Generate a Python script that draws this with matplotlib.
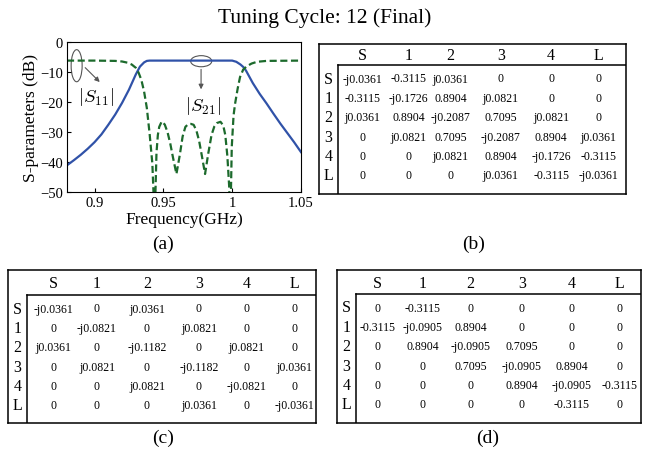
import matplotlib
matplotlib.use("Agg")
import matplotlib.pyplot as plt
from matplotlib.patches import Ellipse

plt.rcParams['font.family'] = ['Liberation Serif', 'DejaVu Serif']
plt.rcParams['mathtext.fontset'] = 'cm'

# S-parameter curves (GHz, dB)
s21_freq = [0.880, 0.885, 0.890, 0.895, 0.900, 0.905, 0.910, 0.915, 0.920, 0.925,
            0.930, 0.933, 0.936, 0.938, 0.940, 0.960, 0.980, 1.000, 1.003, 1.006,
            1.008, 1.010, 1.015, 1.020, 1.025, 1.030, 1.035, 1.040, 1.045, 1.050]
s21_db = [-41.1, -39.4, -37.6, -35.6, -33.4, -30.8, -27.6, -24.2, -20.3, -15.9,
          -10.8, -8.2, -6.8, -6.3, -6.2, -6.2, -6.2, -6.2, -6.6, -7.5,
          -8.3, -9.5, -13.7, -17.3, -20.5, -23.9, -27.2, -30.3, -33.4, -36.7]

s11_freq = [0.880, 0.900, 0.915, 0.920, 0.924, 0.927, 0.930, 0.932, 0.934, 0.936,
            0.938, 0.940, 0.942, 0.9437, 0.945, 0.946, 0.947, 0.9488, 0.951, 0.953,
            0.955, 0.957, 0.9595, 0.962, 0.964, 0.966, 0.968, 0.970, 0.972, 0.974,
            0.976, 0.978, 0.9803, 0.9825, 0.985, 0.987, 0.989, 0.9915, 0.9935, 0.995,
            0.9965, 0.9978, 0.9987, 0.9997, 1.001, 1.0021, 1.004, 1.0057, 1.008, 1.0106,
            1.014, 1.018, 1.025, 1.050]
s11_db = [-6.2, -6.2, -6.3, -6.5, -6.9, -7.5, -8.6, -10.2, -12.6, -16.5,
          -22.0, -30.5, -40.5, -60.0, -37.0, -31.0, -28.3, -26.5, -27.5, -30.0,
          -33.8, -38.5, -44.0, -37.5, -31.5, -28.3, -27.4, -27.3, -27.6, -29.5,
          -33.0, -38.0, -44.0, -37.5, -31.0, -28.2, -27.0, -26.6, -27.8, -31.0,
          -38.0, -48.0, -60.0, -35.0, -24.5, -20.6, -15.5, -11.7, -9.2, -8.1,
          -7.2, -6.6, -6.3, -6.2]

port_labels = ['S', '1', '2', '3', '4', 'L']

table_b = [
    ['-j0.0361', '-0.3115', 'j0.0361', '0', '0', '0'],
    ['-0.3115', '-j0.1726', '0.8904', 'j0.0821', '0', '0'],
    ['j0.0361', '0.8904', '-j0.2087', '0.7095', 'j0.0821', '0'],
    ['0', 'j0.0821', '0.7095', '-j0.2087', '0.8904', 'j0.0361'],
    ['0', '0', 'j0.0821', '0.8904', '-j0.1726', '-0.3115'],
    ['0', '0', '0', 'j0.0361', '-0.3115', '-j0.0361'],
]
table_c = [
    ['-j0.0361', '0', 'j0.0361', '0', '0', '0'],
    ['0', '-j0.0821', '0', 'j0.0821', '0', '0'],
    ['j0.0361', '0', '-j0.1182', '0', 'j0.0821', '0'],
    ['0', 'j0.0821', '0', '-j0.1182', '0', 'j0.0361'],
    ['0', '0', 'j0.0821', '0', '-j0.0821', '0'],
    ['0', '0', '0', 'j0.0361', '0', '-j0.0361'],
]
table_d = [
    ['0', '-0.3115', '0', '0', '0', '0'],
    ['-0.3115', '-j0.0905', '0.8904', '0', '0', '0'],
    ['0', '0.8904', '-j0.0905', '0.7095', '0', '0'],
    ['0', '0', '0.7095', '-j0.0905', '0.8904', '0'],
    ['0', '0', '0', '0.8904', '-j0.0905', '-0.3115'],
    ['0', '0', '0', '0', '-0.3115', '0'],
]

W, H = 651, 452
fig = plt.figure(figsize=(W / 100, H / 100), dpi=100)


def rect(left, top, right, bottom):
    return [left / W, 1 - bottom / H, (right - left) / W, (bottom - top) / H]


fig.text(325 / W, 1 - 18 / H, 'Tuning Cycle: 12 (Final)', ha='center', va='center', fontsize=15.5)

# (a) response plot
ax = fig.add_axes(rect(67, 43, 301, 193))
ax.plot(s21_freq, s21_db, color='#3052a8', lw=1.6)
ax.plot(s11_freq, s11_db, color='#1c6a2c', lw=1.6, linestyle=(0, (3.2, 1.6)))
ax.set_xlim(0.88, 1.05)
ax.set_ylim(-50, 0)
ax.set_xticks([0.9, 0.95, 1.0, 1.05])
ax.set_xticklabels(['0.9', '0.95', '1', '1.05'])
ax.set_yticks([0, -10, -20, -30, -40, -50])
ax.tick_params(direction='in', length=3, labelsize=10.5, pad=3)
ax.set_xlabel('Frequency(GHz)', fontsize=12.5, labelpad=1)
ax.set_ylabel('S-parameters (dB)', fontsize=12.5, labelpad=1)

ax.add_patch(Ellipse((0.887, -7.9), 0.008, 10.7, fill=False, ec='#555555', lw=0.8))
ax.annotate('', xy=(0.9052, -14.0), xytext=(0.8918, -7.9),
            arrowprops=dict(arrowstyle='-|>', color='#555555', lw=0.8, mutation_scale=7))
ax.text(0.9009, -17.9, r'$|S_{11}|$', ha='center', va='center', fontsize=13.5)

ax.add_patch(Ellipse((0.9775, -6.4), 0.0153, 3.7, fill=False, ec='#555555', lw=0.8))
ax.annotate('', xy=(0.9774, -16.7), xytext=(0.9774, -8.2),
            arrowprops=dict(arrowstyle='-|>', color='#555555', lw=0.8, mutation_scale=7))
ax.text(0.979, -21.0, r'$|S_{21}|$', ha='center', va='center', fontsize=13.5)

fig.text(163 / W, 1 - 244 / H, '(a)', ha='center', va='center', fontsize=14)


def draw_table(box, vline, hline, col_frac, cells, label_pos):
    left, top, right, bottom = box
    tax = fig.add_axes(rect(left, top, right, bottom))
    w, h = right - left, bottom - top
    tax.set_xlim(0, w)
    tax.set_ylim(h, 0)
    tax.set_xticks([])
    tax.set_yticks([])
    for s in tax.spines.values():
        s.set_linewidth(1.1)
    vx = vline - left
    hy = hline - top
    tax.plot([vx, w], [hy, hy], color='black', lw=1.1)
    tax.plot([vx, vx], [hy, h], color='black', lw=1.1)
    cols = [vx + f * (w - vx) for f in col_frac]
    for j, name in enumerate(port_labels):
        tax.text(cols[j], hy / 2 + 1, name, ha='center', va='center', fontsize=11.5)
    for i, name in enumerate(port_labels):
        y = hy + 13.5 + i * 19.4
        tax.text(vx / 2, y, name, ha='center', va='center', fontsize=11.5)
        for j, val in enumerate(cells[i]):
            tax.text(cols[j], y, val, ha='center', va='center', fontsize=8.5)
    fig.text(label_pos[0] / W, 1 - label_pos[1] / H, label_pos[2],
             ha='center', va='center', fontsize=14)


draw_table((319, 45, 626, 195), 338, 66, [0.085, 0.245, 0.39, 0.565, 0.74, 0.905],
           table_b, (474, 244, '(b)'))
draw_table((8, 271, 316, 424), 27, 296, [0.09, 0.242, 0.415, 0.595, 0.76, 0.925],
           table_c, (163, 438, '(c)'))
draw_table((337, 271, 641, 424), 356, 295, [0.075, 0.233, 0.402, 0.582, 0.757, 0.925],
           table_d, (488, 438, '(d)'))

fig.savefig('out.png', dpi=100)
